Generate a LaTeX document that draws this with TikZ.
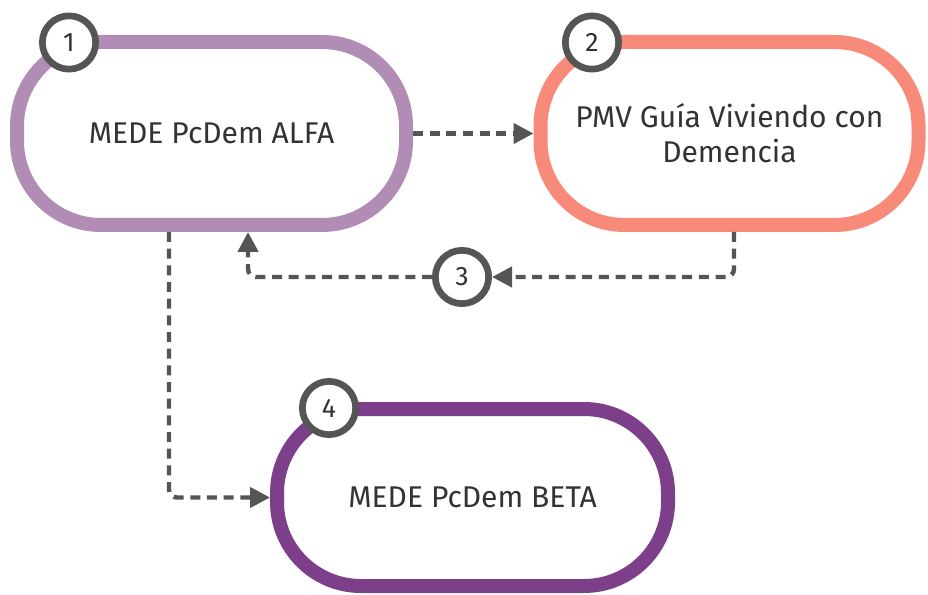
\documentclass[tikz,border=0pt]{standalone}
\usepackage{fontspec}
\setmainfont{Fira Sans}
\usetikzlibrary{arrows.meta}

\definecolor{lavender}{HTML}{B18DB6}
\definecolor{salmon}{HTML}{F88A7A}
\definecolor{plum}{HTML}{7E3F8A}
\definecolor{ink}{HTML}{555555}
\definecolor{label}{HTML}{333333}

\tikzset{
  stage/.style={draw=#1, line width=10.5pt, fill=white, rounded corners=63pt,
    align=center, font=\fontsize{22.5}{26.5}\selectfont, text=label},
  badge/.style={circle, draw=ink, line width=5pt, fill=white,
    minimum size=40pt, inner sep=0pt, font=\fontsize{20}{22}\selectfont, text=label},
  conn/.style={draw=ink, line width=3.3pt, dash pattern=on 7.5pt off 5pt,
    -{Triangle[length=15pt,width=15pt]}, rounded corners=6pt}
}

\begin{document}
\begin{tikzpicture}[x=0.75pt,y=-0.75pt]
  \useasboundingbox (0,0) rectangle (928,595);

  % stages
  \node[stage=lavender, minimum width=291.75pt, minimum height=137.25pt] (alfa) at (211.5,133.5) {MEDE PcDem ALFA};
  \node[stage=salmon, minimum width=283.5pt, minimum height=137.25pt] (guia) at (729.5,133.5) {PMV Guía Viviendo con\\Demencia};
  \node[stage=plum, minimum width=293.25pt, minimum height=132.75pt] (beta) at (472.5,497.5) {MEDE PcDem BETA};

  % step badge on the loop back
  \node[badge] (b3) at (462,277) {3};

  % connectors
  \draw[conn] (alfa.east) -- (guia.west);
  \draw[conn] ([xshift=3.4pt]guia.south) |- (b3);
  \draw[conn] (b3) -| ([xshift=27.4pt]alfa.south);
  \draw[conn] ([xshift=-31.9pt]alfa.south) |- (beta);

  % step badges on the stages
  \node[badge] (b1) at (69,42.5) {1};
  \node[badge] (b2) at (592,42.5) {2};
  \node[badge] (b4) at (329,408) {4};
\end{tikzpicture}
\end{document}
